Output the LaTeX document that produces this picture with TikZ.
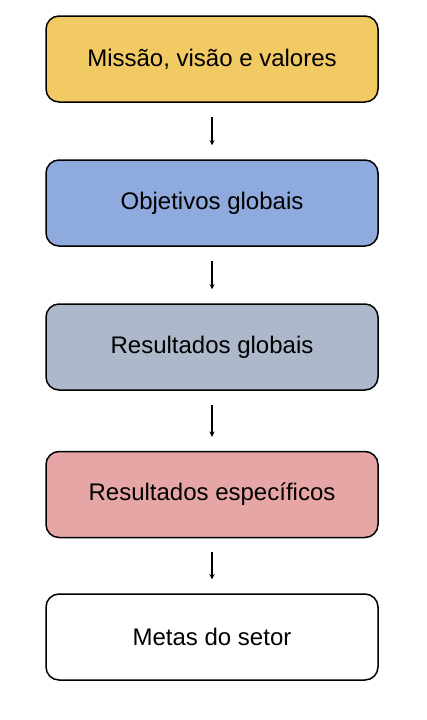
\documentclass[tikz,border=0pt]{standalone}
\usepackage{fontspec}
\setmainfont{Liberation Sans}
\usepackage{xcolor}
\usepackage{tikz}
\usetikzlibrary{positioning}

\definecolor{mission}{HTML}{F1CA64}
\definecolor{goals}{HTML}{8FAADC}
\definecolor{results}{HTML}{ADB9CA}
\definecolor{specific}{HTML}{E6A6A6}

\tikzset{
  every stage/.style={draw, line width=1.5pt, rounded corners=13pt,
    minimum width=332pt, minimum height=86pt,
    font=\fontsize{24}{28}\selectfont},
  flow/.style={->, line width=1.3pt, shorten >=14pt, shorten <=14pt}
}

\begin{document}
\begin{tikzpicture}[x=1pt, y=-1pt, >=stealth]

\useasboundingbox (0,0) rectangle (426,720);

\foreach \t/\c/\p [count=\y] in {{Missão, visão e valores}/mission/59,
    Objetivos globais/goals/203, Resultados globais/results/347,
    Resultados específicos/specific/494.5, Metas do setor/white/637}
  \node [every stage/.try, fill=\c] (stage-\y) at (212,\p) {\t};

\foreach \i [count=\j from 2] in {1,...,4}
  \draw [flow] (stage-\i) -- (stage-\j);

\end{tikzpicture}
\end{document}
